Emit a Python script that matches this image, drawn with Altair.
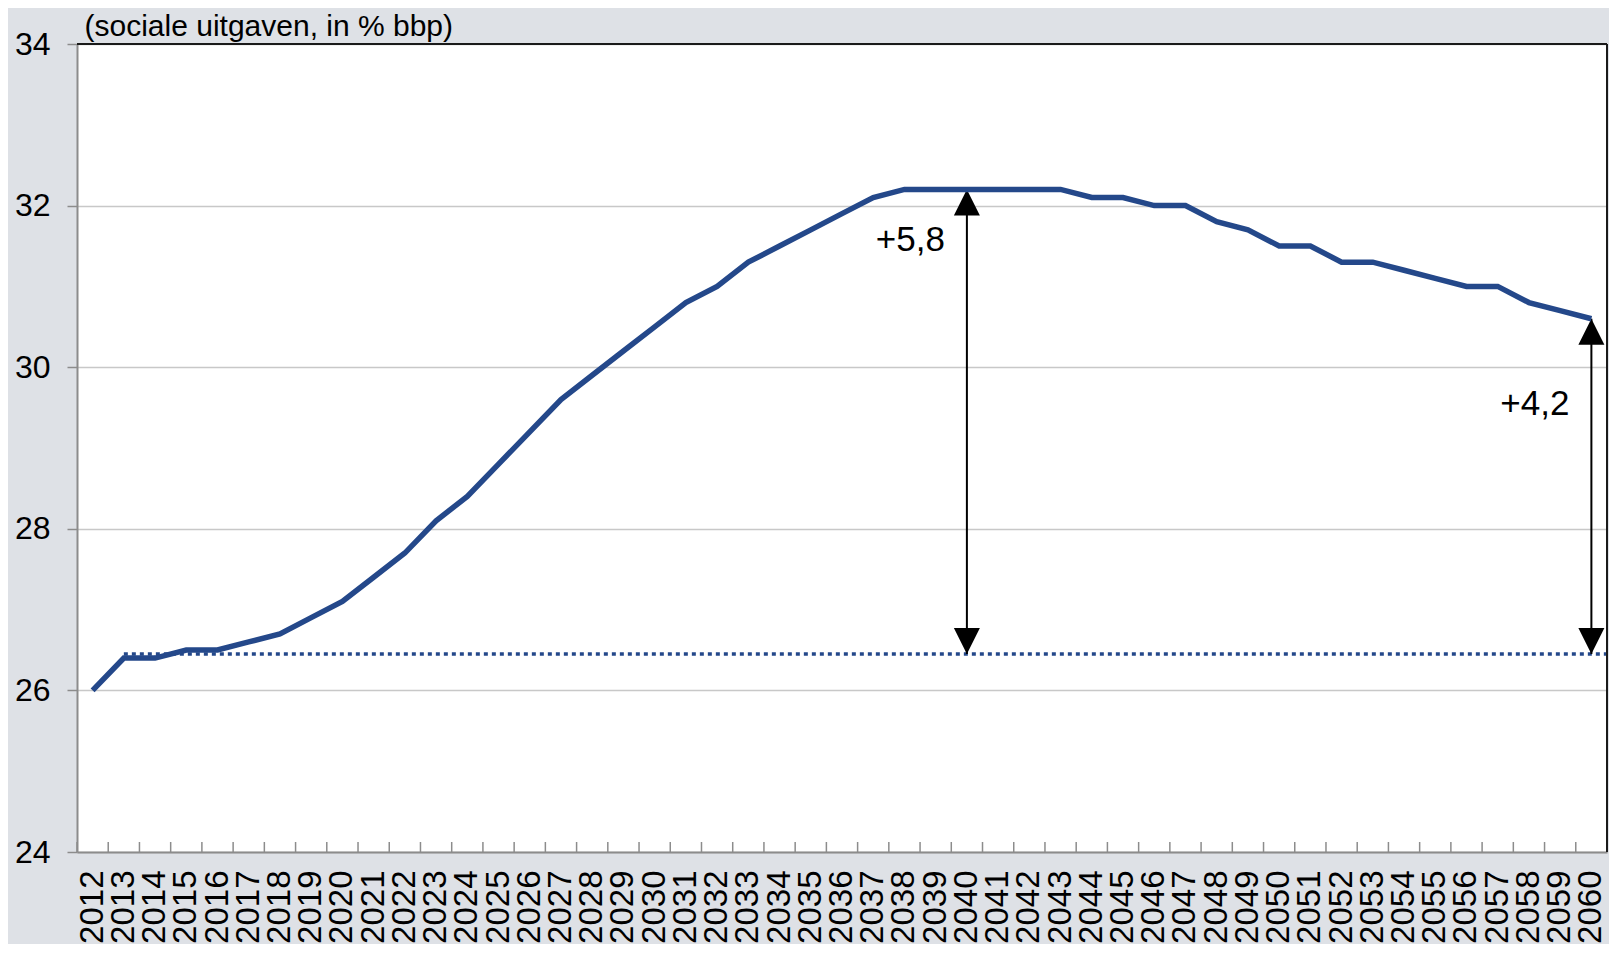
import altair as alt
import pandas as pd

# ---- data ----
years = [str(y) for y in range(2012, 2061)]
values = [26.0, 26.4, 26.4, 26.5, 26.5, 26.6, 26.7, 26.9, 27.1, 27.4,
          27.7, 28.1, 28.4, 28.8, 29.2, 29.6, 29.9, 30.2, 30.5, 30.8,
          31.0, 31.3, 31.5, 31.7, 31.9, 32.1, 32.2, 32.2, 32.2, 32.2,
          32.2, 32.2, 32.1, 32.1, 32.0, 32.0, 31.8, 31.7, 31.5, 31.5,
          31.3, 31.3, 31.2, 31.1, 31.0, 31.0, 30.8, 30.7, 30.6]

baseline_start = ["2013"]
baseline_value = [26.45]

arrow_years = ["2040", "2060"]
arrow_top = [32.2, 30.6]
arrow_base = [26.45, 26.45]
arrow_labels = ["+5,8", "+4,2"]
arrow_label_y = [31.57, 29.54]

y_ticks = [24, 26, 28, 30, 32, 34]
title_text = "(sociale uitgaven, in % bbp)"

# ---- styling ----
FONT = "Liberation Sans"
W, H = 1530, 808
LINE_COLOR = "#24488A"
AXIS_GREY = "#8C8C8C"
GRID_GREY = "#C8C8C8"
BG = "#DEE1E6"

df = pd.DataFrame({"year": years, "value": values})
base_df = pd.DataFrame({"year": baseline_start, "value": baseline_value})
arr_df = pd.DataFrame({"year": arrow_years, "top": arrow_top, "base": arrow_base,
                       "label": arrow_labels, "ly": arrow_label_y})
one = pd.DataFrame({"k": [0]})

xscale = alt.Scale(domain=years, paddingInner=0, paddingOuter=0)
yscale = alt.Scale(domain=[24, 34], nice=False, zero=False)

x_axis = alt.Axis(labelAngle=270, labelFont=FONT, labelFontSize=33, labelColor="black",
                  labelPadding=18, ticks=False, tickSize=0, domainColor=AXIS_GREY,
                  domainWidth=2, grid=False, title=None, labelOverlap=False)
y_axis = alt.Axis(values=y_ticks, format="d", grid=True, gridColor=GRID_GREY, gridWidth=1.5,
                  domainColor=AXIS_GREY, domainWidth=2, tickColor=AXIS_GREY,
                  tickSize=10, tickWidth=1.5, labelFont=FONT, labelFontSize=32,
                  labelColor="black", labelPadding=17, title=title_text,
                  titleAngle=0, titleX=7, titleY=-9, titleAlign="left",
                  titleBaseline="alphabetic", titleFont=FONT, titleFontSize=30,
                  titleFontWeight="normal", titleColor="black")

X = alt.X("year:O", scale=xscale, axis=x_axis)

line = alt.Chart(df).mark_line(color=LINE_COLOR, strokeWidth=5.5).encode(
    x=X, y=alt.Y("value:Q", scale=yscale, axis=y_axis))

xticks = alt.Chart(df).mark_rule(color=AXIS_GREY, strokeWidth=1.5).encode(
    x=alt.X("year:O", scale=xscale, bandPosition=0),
    y=alt.value(H - 10), y2=alt.value(H))

baseline = alt.Chart(base_df).mark_rule(color=LINE_COLOR, strokeWidth=3.5,
                                        strokeDash=[4, 4]).encode(
    x=alt.X("year:O", scale=xscale), x2=alt.value(W),
    y=alt.Y("value:Q", scale=yscale))

shaft = alt.Chart(arr_df).mark_rule(color="black", strokeWidth=2).encode(
    x=alt.X("year:O", scale=xscale), y=alt.Y("top:Q", scale=yscale), y2="base:Q")

head_up = alt.Chart(arr_df).mark_point(shape="M0,0 L1,2 L-1,2 Z", size=676, filled=True,
                                       color="black", opacity=1, strokeWidth=0).encode(
    x=alt.X("year:O", scale=xscale), y=alt.Y("top:Q", scale=yscale))

head_down = alt.Chart(arr_df).mark_point(shape="M0,0 L1,-2 L-1,-2 Z", size=676, filled=True,
                                         color="black", opacity=1, strokeWidth=0).encode(
    x=alt.X("year:O", scale=xscale), y=alt.Y("base:Q", scale=yscale))

labels = alt.Chart(arr_df).mark_text(align="right", baseline="middle", dx=-22,
                                     font=FONT, fontSize=35, color="black").encode(
    x=alt.X("year:O", scale=xscale), y=alt.Y("ly:Q", scale=yscale), text="label:N")

border_top = alt.Chart(one).mark_rule(color="#1A1A1A", strokeWidth=2).encode(
    x=alt.value(0), x2=alt.value(W), y=alt.value(0))
border_right = alt.Chart(one).mark_rule(color="#1A1A1A", strokeWidth=2).encode(
    x=alt.value(W), y=alt.value(0), y2=alt.value(H))

chart = alt.layer(
    xticks, baseline, shaft, head_up, head_down, line, labels, border_top, border_right
).properties(
    width=W, height=H, background=BG,
    padding={"left": 6, "top": 3, "right": 0, "bottom": 0},
).configure_view(stroke=None, fill="white")

chart.save("out.html", embed_options={"renderer": "svg", "actions": False})
